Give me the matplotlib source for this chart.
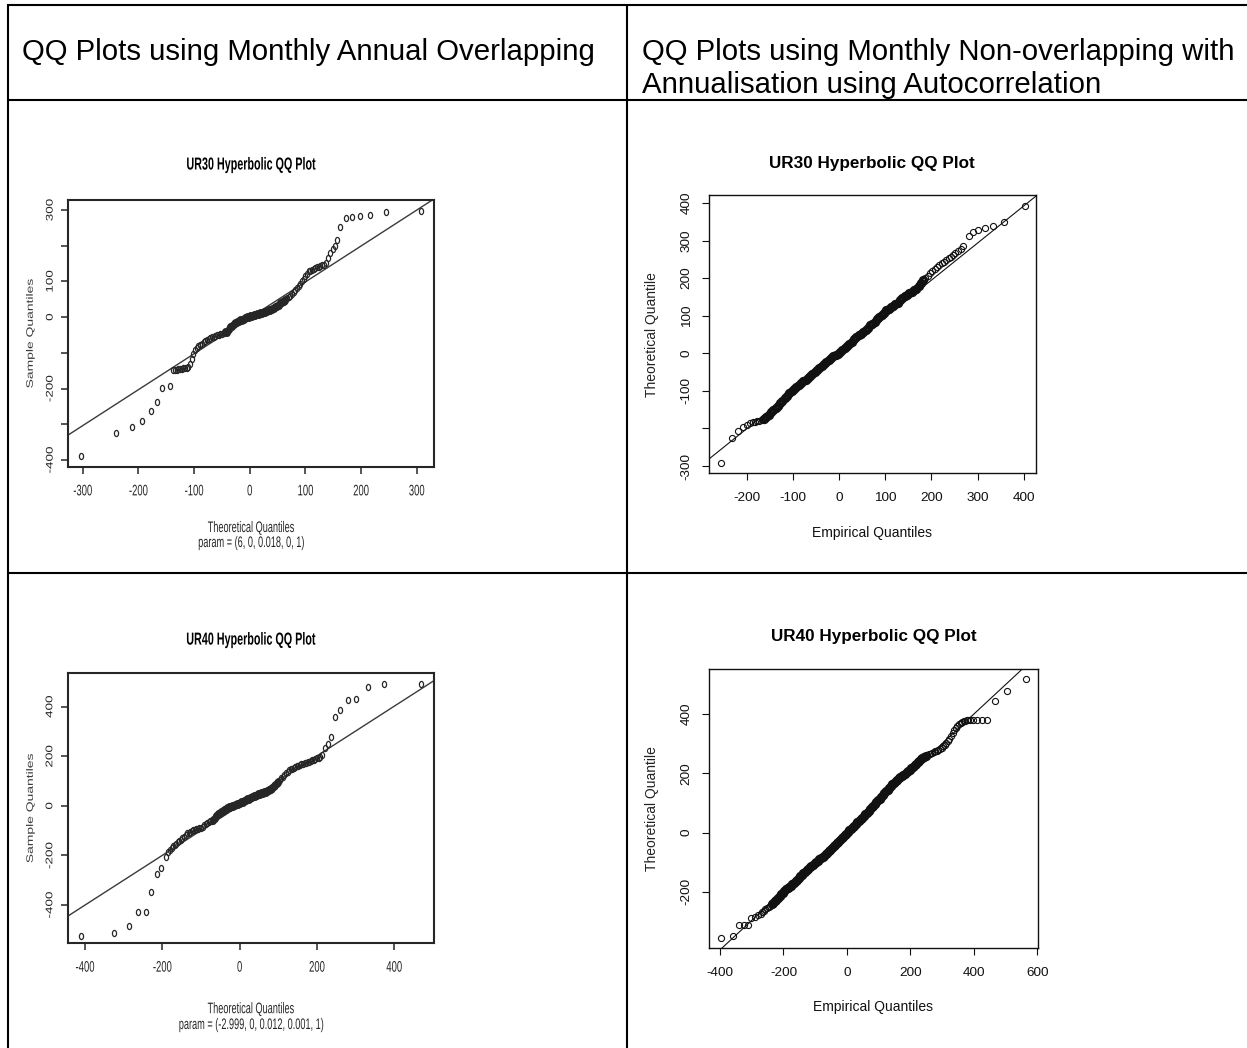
import matplotlib
matplotlib.use("Agg")
import matplotlib.pyplot as plt
import matplotlib.patheffects as pe
import numpy as np
from matplotlib.lines import Line2D
from matplotlib.path import Path
from matplotlib.markers import MarkerStyle
from matplotlib.transforms import Affine2D

plt.rcParams["font.family"] = ["Liberation Sans", "DejaVu Sans"]

# ---------------------------------------------------------------- data
# UR30, monthly annual overlapping: theoretical (x) vs sample (y) quantiles
ur30_ovl_x = [-303, -241, -211, -193, -178, -167, -157, -143,
              -137, -134, -131, -128, -125, -122, -119, -116, -113, -110, -107, -104, -101, -98,
              -95, -92, -89, -86, -83, -80, -77, -74, -71, -68, -65, -62, -59, -56, -53, -50,
              -47, -44, -41, -38, -35, -32, -29, -26, -23, -20, -17, -14, -11, -8, -5, -2,
              1, 4, 7, 10, 13, 16, 19, 22, 25, 28, 31, 34, 37, 40, 43, 46, 49, 52, 55, 58,
              61, 64, 67, 70, 73, 76, 79, 82, 85, 88, 91, 94, 97, 100, 103, 106, 109, 112,
              115, 118, 121, 124, 127, 130, 133,
              137, 141, 144, 149, 153, 157, 163, 173, 183, 198, 216, 245, 307]
ur30_ovl_y = [-389, -323, -307, -291, -262, -237, -199, -193,
              -148, -147, -147, -146, -145, -144, -143, -142, -141, -139, -132, -118, -104, -92,
              -87, -82, -78, -75, -71, -67, -64, -61, -58, -56, -55, -52, -50, -49, -47, -46,
              -45, -43, -41, -34, -27, -24, -20, -16, -13, -11, -9, -7, -5, -3, -1, 1,
              2, 4, 6, 7, 9, 10, 11, 12, 13, 14, 16, 19, 21, 23, 25, 29, 32, 35, 39, 42,
              46, 49, 53, 57, 60, 64, 69, 75, 81, 87, 93, 100, 106, 114, 122, 128, 130, 133,
              135, 137, 139, 141, 143, 145, 147,
              152, 165, 180, 190, 198, 216, 251, 277, 280, 282, 285, 295, 298]

# UR30, monthly non-overlapping annualised: empirical (x) vs theoretical (y)
ur30_non_x = [-257, -232, -219, -209, -201, -193,
              -188, -183, -178, -173, -168, -163, -158, -153, -148, -143, -138, -133, -128,
              -123, -118, -113, -108, -103, -98, -93, -88, -83, -78, -73, -68, -63, -58,
              -53, -48, -43, -38, -33, -28, -23, -18, -13, -8, -3, 2, 7, 12, 17, 22, 27,
              32, 37, 42, 47, 52, 57, 62, 67, 72, 77, 82, 87, 92, 97, 102, 107, 112, 117,
              122, 127, 132, 137, 142, 147, 152, 157, 162, 167, 172, 177, 182, 187, 192,
              197, 202, 207, 212, 217, 222, 227, 232, 237, 242, 247, 252,
              258, 264, 269, 282, 291, 302, 316, 334, 358, 402]
ur30_non_y = [-293, -225, -206, -197, -191, -186,
              -183, -182, -181, -180, -178, -176, -169, -163, -157, -151, -145, -139, -133,
              -126, -120, -113, -106, -100, -95, -90, -85, -80, -75, -70, -65, -60, -55,
              -50, -45, -40, -34, -28, -23, -17, -12, -7, -4, -1, 3, 8, 13, 19, 25, 31,
              37, 43, 48, 52, 56, 62, 68, 74, 79, 84, 90, 96, 102, 108, 114, 119, 123, 127,
              131, 135, 141, 147, 152, 156, 160, 164, 168, 172, 178, 186, 195, 201, 207,
              213, 219, 225, 230, 235, 240, 244, 249, 253, 257, 261, 266,
              272, 278, 285, 313, 324, 328, 334, 339, 349, 393]

# UR40, monthly annual overlapping: theoretical (x) vs sample (y) quantiles
ur40_ovl_x = [-410, -326, -287, -262, -243, -228, -215, -203, -191,
              -184, -180, -176, -172, -168, -164, -160, -156, -152, -148, -144, -140, -136,
              -132, -128, -124, -120, -116, -112, -108, -104, -100, -96, -92, -88, -84, -80,
              -76, -72, -68, -64, -60, -56, -52, -48, -44, -40, -36, -32, -28, -24, -20,
              -16, -12, -8, -4, 0, 4, 8, 12, 16, 20, 24, 28, 32, 36, 40, 44, 48, 52, 56,
              60, 64, 68, 72, 76, 80, 84, 88, 92, 96, 100, 104, 108, 112, 116, 120, 124,
              128, 132, 136, 140, 144, 148, 152, 156, 160, 164, 168, 172, 176, 180, 184,
              188, 192, 196, 200, 204, 208, 212,
              220, 228, 236, 247, 260, 280, 301, 331, 373, 468]
ur40_ovl_y = [-523, -511, -484, -429, -429, -346, -275, -252, -205,
              -188, -178, -170, -162, -157, -152, -147, -142, -136, -130, -124, -117, -111,
              -108, -105, -102, -99, -97, -95, -93, -91, -88, -84, -79, -75, -71, -67,
              -63, -60, -57, -49, -41, -34, -28, -23, -19, -15, -12, -9, -6, -4, -2,
              0, 3, 6, 9, 11, 14, 17, 20, 23, 26, 29, 32, 35, 38, 41, 43, 46, 49, 51,
              53, 55, 57, 60, 63, 67, 73, 80, 86, 92, 98, 104, 111, 117, 124, 131, 137,
              143, 147, 150, 153, 156, 159, 162, 165, 167, 169, 171, 173, 175, 177, 180,
              183, 186, 189, 192, 195, 198, 205,
              232, 250, 276, 360, 387, 427, 433, 481, 490, 490]

# UR40, monthly non-overlapping annualised: empirical (x) vs theoretical (y)
ur40_non_x = [-398, -359, -339, -324, -311, -302, -290, -281,
              -272, -267, -262, -257, -252, -247, -242, -237, -232, -227, -222, -217, -212,
              -207, -202, -197, -192, -187, -182, -177, -172, -167, -162, -157, -152, -147,
              -142, -137, -132, -127, -122, -117, -112, -107, -102, -97, -92, -87, -82, -77,
              -72, -67, -62, -57, -52, -47, -42, -37, -32, -27, -22, -17, -12, -7, -2, 3,
              8, 13, 18, 23, 28, 33, 38, 43, 48, 53, 58, 63, 68, 73, 78, 83, 88, 93, 98,
              103, 108, 113, 118, 123, 128, 133, 138, 143, 148, 153, 158, 163, 168, 173,
              178, 183, 188, 193, 198, 203, 208, 213, 218, 223, 228, 233, 238, 243, 248,
              253, 258, 263, 268, 273, 278, 283, 288, 293, 298, 303, 308, 313, 318, 323,
              328, 333, 338, 343, 348, 353, 358, 363, 368, 373, 378, 383, 388,
              398, 410, 425, 440, 467, 503, 563]
ur40_non_y = [-358, -350, -313, -313, -313, -290, -284, -280,
              -275, -270, -265, -260, -256, -252, -248, -243, -239, -233, -227, -221, -215,
              -209, -203, -197, -192, -188, -184, -180, -175, -170, -164, -159, -153, -148,
              -143, -138, -133, -128, -123, -118, -114, -109, -104, -100, -95, -91, -86, -82,
              -78, -73, -68, -63, -58, -53, -47, -42, -37, -31, -26, -20, -15, -9, -4, 1,
              7, 12, 18, 23, 29, 34, 40, 45, 50, 55, 61, 67, 73, 79, 85, 91, 97, 103, 109,
              115, 121, 127, 133, 139, 145, 151, 157, 163, 169, 174, 179, 183, 187, 191,
              195, 199, 203, 208, 213, 218, 223, 228, 233, 238, 243, 248, 253, 257, 260,
              262, 264, 267, 269, 272, 275, 277, 280, 283, 287, 291, 295, 302, 309, 317,
              326, 336, 346, 354, 361, 366, 370, 373, 376, 378, 379, 380, 381,
              381, 381, 381, 381, 445, 477, 520]

# x-range where the points pile up into a solid band
ur30_ovl_dense = (-45, 65)
ur30_non_dense = (-165, 185)
ur40_ovl_dense = (-70, 100)
ur40_non_dense = (-240, 250)

# reference lines (slope, intercept)
ur30_ovl_fit = (1.006, -2.0)
ur30_non_fit = (0.987, -2.7)
ur40_ovl_fit = (1.003, 0.9)
ur40_non_fit = (0.997, 1.9)

# tick values and labels
ur30_ovl_xt = [-300, -200, -100, 0, 100, 200, 300]
ur30_ovl_xtl = ["-300", "-200", "-100", "0", "100", "200", "300"]
ur30_ovl_yt = [-400, -300, -200, -100, 0, 100, 200, 300]
ur30_ovl_ytl = ["-400", "", "-200", "", "0", "100", "", "300"]

ur30_non_xt = [-200, -100, 0, 100, 200, 300, 400]
ur30_non_xtl = ["-200", "-100", "0", "100", "200", "300", "400"]
ur30_non_yt = [-300, -200, -100, 0, 100, 200, 300, 400]
ur30_non_ytl = ["-300", "", "-100", "0", "100", "200", "300", "400"]

ur40_ovl_xt = [-400, -200, 0, 200, 400]
ur40_ovl_xtl = ["-400", "-200", "0", "200", "400"]
ur40_ovl_yt = [-400, -200, 0, 200, 400]
ur40_ovl_ytl = ["-400", "-200", "0", "200", "400"]

ur40_non_xt = [-400, -200, 0, 200, 400, 600]
ur40_non_xtl = ["-400", "-200", "0", "200", "400", "600"]
ur40_non_yt = [-200, 0, 200, 400]
ur40_non_ytl = ["-200", "0", "200", "400"]

header_left = "QQ Plots using Monthly Annual Overlapping"
header_right = ["QQ Plots using Monthly Non-overlapping with",
                "Annualisation using Autocorrelation"]

# ---------------------------------------------------------------- helpers
W, H = 1247, 1048
fig = plt.figure(figsize=(W / 100, H / 100), dpi=100, facecolor="white")


class Squeeze(pe.AbstractPathEffect):
    """Draw text narrowed horizontally about its own centre."""

    def __init__(self, sx):
        super().__init__()
        self.sx = sx

    def draw_path(self, renderer, gc, tpath, affine, rgbFace=None):
        ext = tpath.get_extents(affine)
        cx = 0.5 * (ext.x0 + ext.x1)
        narrow = Affine2D().translate(-cx, 0).scale(self.sx, 1).translate(cx, 0)
        renderer.draw_path(gc, tpath, affine + narrow, rgbFace)


oval = MarkerStyle(Path.unit_circle().transformed(Affine2D().scale(0.68, 1.0)),
                   fillstyle="none")

NARROW = dict(ink="#262626", xtick_fs=11, ytick_fs=9.7, lab_fs=11, ylab_fs=10,
              title_fs=12.5, sq=dict(xtick=0.62, ytick=0.72, title=0.62, xlab=0.6, ylab=0.68),
              box_lw=1.5, tick_w=1.1, tick_len=5.0, marker=oval, ms=4.4, mew=0.9,
              dense_mew=2.0, line_lw=1.0, line_c="#3a3a3a", xpad=7.5, ypad=3.0,
              ylab_c="#3c3c3c")
PLAIN = dict(ink="#111111", xtick_fs=9.7, ytick_fs=9.7, lab_fs=10, ylab_fs=10,
             title_fs=12.3, sq=None, box_lw=1.0, tick_w=0.8, tick_len=5.3, marker="o",
             ms=4.4, mew=0.8, dense_mew=2.3, line_lw=0.8, line_c="#111111", xpad=8.0,
             ypad=6.3, ylab_c="#222222")


def qq_panel(box, xs, ys, dense, xlim, ylim, xt, xtl, yt, ytl, fit, title, title_y,
             xlab, xlab_y, ylab, ylab_x, st, sub=None, sub_y=None):
    x0, y0, x1, y1 = box
    ax = fig.add_axes([x0 / W, 1 - y1 / H, (x1 - x0) / W, (y1 - y0) / H])
    ax.set_xlim(*xlim)
    ax.set_ylim(*ylim)

    xs, ys = np.asarray(xs), np.asarray(ys)
    pile = (xs >= dense[0]) & (xs <= dense[1])
    ax.plot(xs[~pile], ys[~pile], linestyle="none", marker=st["marker"], ms=st["ms"],
            mfc="none", mec=st["ink"], mew=st["mew"], zorder=3)
    ax.plot(xs[pile], ys[pile], linestyle="none", marker=st["marker"], ms=st["ms"],
            mfc="none", mec=st["ink"], mew=st["dense_mew"], zorder=3)
    ax.axline((0, fit[1]), slope=fit[0], color=st["line_c"], lw=st["line_lw"], zorder=2)

    ax.set_xticks(xt, labels=xtl)
    ax.set_yticks(yt, labels=ytl)
    ax.tick_params(direction="out", length=st["tick_len"], width=st["tick_w"],
                   color=st["ink"], labelcolor=st["ink"], top=False, right=False)
    ax.tick_params(axis="x", pad=st["xpad"], labelsize=st["xtick_fs"])
    ax.tick_params(axis="y", pad=st["ypad"], labelsize=st["ytick_fs"], labelrotation=90)
    for lab in ax.get_yticklabels():
        lab.set_va("center")
    for sp in ax.spines.values():
        sp.set_linewidth(st["box_lw"])
        sp.set_color(st["ink"])

    ax.set_title(title, fontsize=st["title_fs"], fontweight="bold", y=title_y, pad=0,
                 va="center", color="black")
    ax.set_xlabel(xlab, fontsize=st["lab_fs"], va="center", color=st["ink"])
    ax.xaxis.set_label_coords(0.5, xlab_y)
    ax.set_ylabel(ylab, fontsize=st["ylab_fs"], va="center", ha="center",
                  color=st["ylab_c"])
    ax.yaxis.set_label_coords(ylab_x, 0.5)

    sub_txt = None
    if sub:
        sub_txt = ax.text(0.5, sub_y, sub, transform=ax.transAxes, ha="center",
                          va="center", fontsize=st["lab_fs"], color=st["ink"])
    sq = st["sq"]
    if sq:
        groups = [([ax.title], sq["title"]),
                  ([ax.xaxis.label] + ([sub_txt] if sub_txt else []), sq["xlab"]),
                  ([ax.yaxis.label], sq["ylab"]),
                  (list(ax.get_xticklabels()), sq["xtick"]),
                  (list(ax.get_yticklabels()), sq["ytick"])]
        for items, f in groups:
            for t in items:
                t.set_path_effects([Squeeze(f)])
    return ax


# ---------------------------------------------------------------- table frame
def rule(xa, ya, xb, yb):
    fig.add_artist(Line2D([xa / W, xb / W], [1 - ya / H, 1 - yb / H],
                          transform=fig.transFigure, color="black", lw=1.5,
                          solid_capstyle="butt"))


rule(7, 5, W, 5)
rule(8, 100, W, 100)
rule(8, 573, W, 573)
rule(8, 4, 8, H)
rule(627, 4, 627, H)

fig.text(22 / W, 1 - 60 / H, header_left, fontsize=21.2, ha="left", va="baseline")
fig.text(642 / W, 1 - 60 / H, header_right[0], fontsize=21.2, ha="left", va="baseline")
fig.text(642 / W, 1 - 93 / H, header_right[1], fontsize=21.2, ha="left", va="baseline")

# ---------------------------------------------------------------- panels
qq_panel((68, 200, 434, 467), ur30_ovl_x, ur30_ovl_y, ur30_ovl_dense,
         (-326.4, 331), (-419.6, 328),
         ur30_ovl_xt, ur30_ovl_xtl, ur30_ovl_yt, ur30_ovl_ytl, ur30_ovl_fit,
         "UR30 Hyperbolic QQ Plot", 1.131, "Theoretical Quantiles", -0.2285,
         "Sample Quantiles", -0.104, NARROW,
         sub="param = (6, 0, 0.018, 0, 1)", sub_y=-0.2846)

qq_panel((708.7, 195.3, 1036, 473.3), ur30_non_x, ur30_non_y, ur30_non_dense,
         (-283, 426.7), (-319.4, 420.5),
         ur30_non_xt, ur30_non_xtl, ur30_non_yt, ur30_non_ytl, ur30_non_fit,
         "UR30 Hyperbolic QQ Plot", 1.116, "Empirical Quantiles", -0.2137,
         "Theoretical Quantile", -0.174, PLAIN)

qq_panel((67.7, 673.3, 434, 943.3), ur40_ovl_x, ur40_ovl_y, ur40_ovl_dense,
         (-444.7, 502.7), (-554.4, 534.7),
         ur40_ovl_xt, ur40_ovl_xtl, ur40_ovl_yt, ur40_ovl_ytl, ur40_ovl_fit,
         "UR40 Hyperbolic QQ Plot", 1.123, "Theoretical Quantiles", -0.244,
         "Sample Quantiles", -0.1029, NARROW,
         sub="param = (-2.999, 0, 0.012, 0.001, 1)", sub_y=-0.3026)

qq_panel((708.7, 668.7, 1038, 948.3), ur40_non_x, ur40_non_y, ur40_non_dense,
         (-435.6, 602), (-391.5, 554),
         ur40_non_xt, ur40_non_xtl, ur40_non_yt, ur40_non_ytl, ur40_non_fit,
         "UR40 Hyperbolic QQ Plot", 1.1144, "Empirical Quantiles", -0.211,
         "Theoretical Quantile", -0.173, PLAIN)

fig.savefig("out.png", dpi=100, facecolor="white")
